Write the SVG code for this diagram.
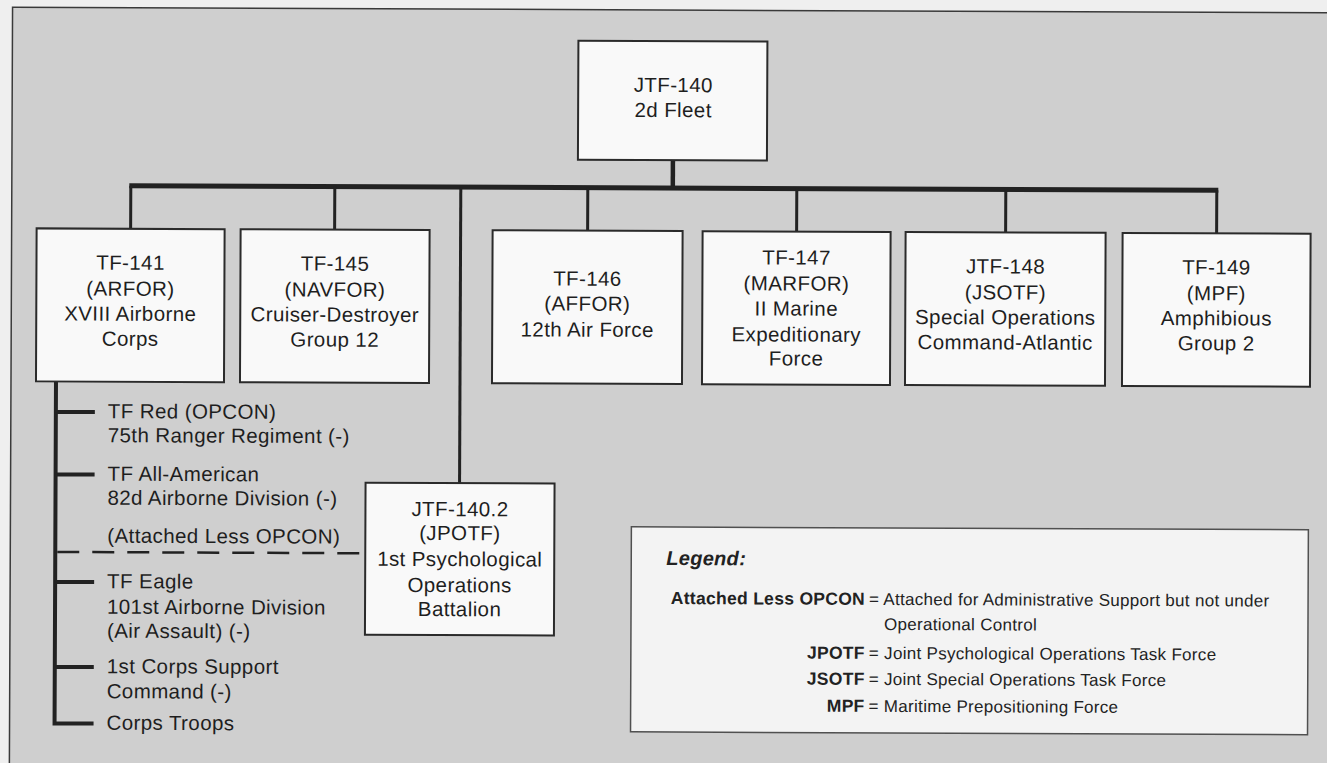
<svg xmlns="http://www.w3.org/2000/svg" width="1327" height="763" viewBox="0 0 1327 763">
<style>
.box{fill:#f9f9f9;stroke:#2b2b2b;stroke-width:2}
.t{font-family:"Liberation Sans",Arial,Helvetica,sans-serif;font-size:20.5px;letter-spacing:0.4px;fill:#1e1e1e}
.c{text-anchor:middle}
.ln{stroke:#222;fill:none;stroke-linecap:butt}
.drop{stroke-width:3}
.br{stroke-width:4}
.lgbox{fill:#f3f3f3;stroke:#505050;stroke-width:1.5}
.lg{font-family:"Liberation Sans",Arial,Helvetica,sans-serif;font-size:17px;letter-spacing:0.3px;fill:#222}
.lb{font-weight:bold;font-size:17.5px;text-anchor:end}
</style>
<rect width="1327" height="763" fill="#efefef"/>
<g transform="rotate(0.24 663 380)">
<rect id="frame" x="11" y="10" width="1340" height="780" fill="#cfcfcf" stroke="#3a3a3a" stroke-width="1.5"/>
<g id="connectors">
<path class="ln" d="M672 160V188" stroke-width="4.5"/>
<path class="ln" d="M128.5 188H1217.5" stroke-width="5"/>
<path class="ln drop" d="M130 188V231M334 188V231M587 188V231M796 188V231M1005 188V231M1216 188V231"/>
<path class="ln drop" d="M460 188V484"/>
<path class="ln br" d="M56 384V726H95M56 414.5H95M56 477H95M56 584.5H95M56 669.5H95"/>
<path class="ln" d="M58 554.5H366" stroke-width="2.5" stroke-dasharray="22 13"/>
</g>
<g id="n-jtf140">
<rect class="box" x="577" y="41" width="189" height="119"/>
<text class="t c" x="672" y="92">JTF-140</text>
<text class="t c" x="672" y="117">2d Fleet</text>
</g>
<g id="n-tf141">
<rect class="box" x="36" y="231" width="188" height="153"/>
<text class="t c" x="130" y="272">TF-141</text>
<text class="t c" x="130" y="298">(ARFOR)</text>
<text class="t c" x="130" y="323">XVIII Airborne</text>
<text class="t c" x="130" y="348">Corps</text>
</g>
<g id="n-tf145">
<rect class="box" x="240" y="231" width="189" height="153"/>
<text class="t c" x="334.5" y="272">TF-145</text>
<text class="t c" x="334.5" y="298">(NAVFOR)</text>
<text class="t c" x="334.5" y="323">Cruiser-Destroyer</text>
<text class="t c" x="334.5" y="348">Group 12</text>
</g>
<g id="n-tf146">
<rect class="box" x="492" y="231" width="190" height="153"/>
<text class="t c" x="587" y="286">TF-146</text>
<text class="t c" x="587" y="311">(AFFOR)</text>
<text class="t c" x="587" y="337">12th Air Force</text>
</g>
<g id="n-tf147">
<rect class="box" x="702" y="231" width="188" height="153"/>
<text class="t c" x="796" y="264">TF-147</text>
<text class="t c" x="796" y="290">(MARFOR)</text>
<text class="t c" x="796" y="315">II Marine</text>
<text class="t c" x="796" y="341">Expeditionary</text>
<text class="t c" x="796" y="365">Force</text>
</g>
<g id="n-jtf148">
<rect class="box" x="905" y="231" width="200" height="153"/>
<text class="t c" x="1005" y="272">JTF-148</text>
<text class="t c" x="1005" y="298">(JSOTF)</text>
<text class="t c" x="1005" y="323">Special Operations</text>
<text class="t c" x="1005" y="348">Command-Atlantic</text>
</g>
<g id="n-tf149">
<rect class="box" x="1122" y="231" width="188" height="153"/>
<text class="t c" x="1216" y="272">TF-149</text>
<text class="t c" x="1216" y="298">(MPF)</text>
<text class="t c" x="1216" y="323">Amphibious</text>
<text class="t c" x="1216" y="348">Group 2</text>
</g>
<g id="n-jtf1402">
<rect class="box" x="366" y="484" width="189" height="152"/>
<text class="t c" x="460.5" y="517">JTF-140.2</text>
<text class="t c" x="460.5" y="541">(JPOTF)</text>
<text class="t c" x="460.5" y="567">1st Psychological</text>
<text class="t c" x="460.5" y="593">Operations</text>
<text class="t c" x="460.5" y="617">Battalion</text>
</g>
<g id="n-tf-red">
<text class="t" x="108" y="420.5">TF Red (OPCON)</text>
<text class="t" x="108" y="444.5">75th Ranger Regiment (-)</text>
</g>
<g id="n-tf-all-american">
<text class="t" x="108" y="483">TF All-American</text>
<text class="t" x="108" y="507">82d Airborne Division (-)</text>
<text class="t" x="108" y="545">(Attached Less OPCON)</text>
</g>
<g id="n-tf-eagle">
<text class="t" x="108" y="590.5">TF Eagle</text>
<text class="t" x="108" y="616">101st Airborne Division</text>
<text class="t" x="108" y="640">(Air Assault) (-)</text>
</g>
<g id="n-cosCom">
<text class="t" x="108" y="675.5">1st Corps Support</text>
<text class="t" x="108" y="700.5">Command (-)</text>
</g>
<g id="n-corps-troops">
<text class="t" x="108" y="732">Corps Troops</text>
</g>
<g id="legend">
<rect class="lgbox" x="632" y="527" width="677" height="205"/>
<text class="lg" x="667" y="565" style="font-weight:bold;font-style:italic;font-size:20px">Legend:</text>
<text class="lg lb" x="866" y="604">Attached Less OPCON</text>
<text class="lg" x="870" y="604">= Attached for Administrative Support but not under</text>
<text class="lg" x="885" y="629">Operational Control</text>
<text class="lg lb" x="866" y="658">JPOTF</text>
<text class="lg" x="870" y="658">= Joint Psychological Operations Task Force</text>
<text class="lg lb" x="866" y="684">JSOTF</text>
<text class="lg" x="870" y="684">= Joint Special Operations Task Force</text>
<text class="lg lb" x="866" y="711">MPF</text>
<text class="lg" x="870" y="711">= Maritime Prepositioning Force</text>
</g>
</g>
</svg>
